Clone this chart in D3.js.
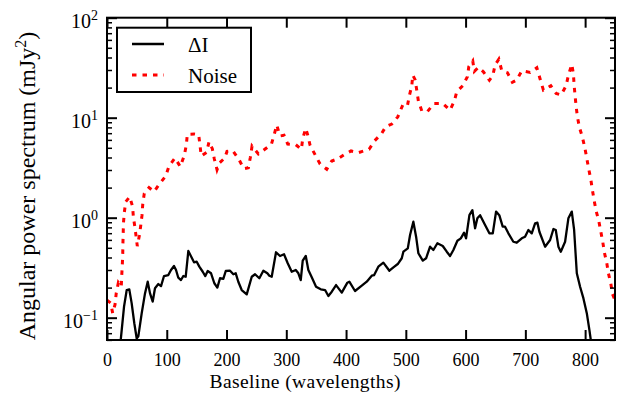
<!DOCTYPE html>
<html>
<head>
<meta charset="utf-8">
<script src="https://cdn.jsdelivr.net/npm/d3@7"></script>
<style>
  body { margin: 0; background: #fff; }
  text { font-family: "Liberation Serif", serif; fill: #000; }
</style>
</head>
<body>
<div id="chart"></div>
<script>
// baseline (wavelengths) and power (mJy^2)
const noiseBaseline = [0, 6.2, 9.5, 13.4, 15.4, 19, 23.9, 24.6, 25.6, 26.3, 26.6, 27.1, 27.5, 29, 31.3, 38,
  42.8, 44.2, 47, 50.7, 54, 56.4, 58.6, 59.8, 62.4, 70.3, 78.7, 87.6, 98.2, 103.8, 113.8, 122.6, 129.4,
  132.7, 134.4, 146, 153.4, 155.6, 157.7, 166.8, 170.7, 176.2, 179.6, 184.1, 188.6, 197, 200.8, 210.4,
  220.4, 228.8, 236.5, 239.9, 242.7, 253.3, 264, 275, 280, 284, 289.5, 296.2, 302.4, 315.8, 325.2, 327.5,
  332.5, 335.9, 339.8, 348.1, 356.5, 367.7, 376.1, 385.4, 396.1, 408.4, 420.6, 427.3, 438.5, 448, 459.7,
  466.4, 476.5, 486.5, 494.9, 502.6, 505.9, 510, 511.6, 515.5, 518.3, 521, 526.7, 536, 547.3, 561.8, 574,
  581.3, 585.3, 595.3, 603, 605.4, 612, 614.7, 621.4, 629.8, 639.8, 645.5, 649.4, 655.6, 660.6, 670,
  678.3, 685.7, 694, 708, 719.2, 724.7, 730.2, 742.6, 751.5, 759.8, 768.2, 772.1, 777.7, 780.4, 781.6,
  783.2, 784.9, 787.1, 790.5, 795.5, 799.5, 802.8, 805.8, 809.5, 812.2, 815, 818.4, 822.9, 826.3, 829.6,
  832.3, 836.3, 839, 843, 845.7, 850];
const noisePower = [0.15, 0.14, 0.111, 0.135, 0.175, 0.224, 0.204, 0.261, 0.334, 0.424, 0.542, 0.698, 0.879, 1.13, 1.445, 1.62,
  1.29, 1.01, 0.78, 0.52, 0.656, 0.83, 1.06, 1.36, 1.75, 2.0, 1.82, 2.17, 2.61, 3.29, 3.95, 3.24, 4.21,
  5.33, 6.82, 6.87, 6.76, 5.3, 4.14, 4.51, 5.75, 4.9, 3.86, 3.02, 3.55, 3.95, 4.61, 4.68,
  3.86, 3.09, 3.16, 4.02, 5.21, 4.34, 4.83, 5.4, 6.87, 8.45, 6.56, 6.67, 5.46, 5.37, 4.83, 6.17,
  7.83, 6.71, 5.3, 4.27, 3.44, 3.05, 3.69, 3.86, 4.24, 4.65, 4.47, 4.61, 4.83, 5.89, 6.98,
  8.13, 8.65, 10.2, 13.4, 13.1, 16.6, 20.9, 26.7, 24, 18.8, 14.7, 11.7, 11.5, 13.9, 13.9, 11.9,
  14.8, 18.2, 20.9, 25.7, 32.4, 36.9, 29.1, 31.9, 28.8, 23.7, 26.3, 33.7, 38.4, 29.5, 28.2,
  22.6, 23.8, 29.5, 28.4, 31.6, 24.4, 18.9, 20.9, 17.5, 16.9, 20.9, 26.7, 34.2, 27.4, 21.2,
  16.6, 13.1, 10.2, 8.0, 6.37, 5.01, 3.93, 3.12, 2.42, 1.89, 1.5, 1.17, 0.927, 0.724, 0.568,
  0.447, 0.35, 0.278, 0.219, 0.173, 0.15];

const deltaBaseline = [18, 28.5, 33, 37.3, 41.3, 45.7, 49.7, 52.4, 58.1, 63.6, 68.1, 72, 76.5, 80.3, 85.9, 90.4,
  95.4, 102.6, 107.1, 112.1, 115.5, 119.3, 123.8, 127.7, 131.7, 136.1, 140.1, 145.6, 150.1, 154.5, 160.2,
  164.5, 168.5, 174.1, 179.6, 184.6, 189.1, 194.6, 198.7, 205.9, 211.4, 215.4, 219.7, 225.4, 233.8, 242.2,
  247.7, 254.9, 261.6, 268.3, 271.6, 275.6, 282.8, 289.5, 296.2, 302.4, 309.1, 315.8, 320.2, 324.2, 327.5,
  332.6, 336.9, 342.6, 349.8, 357.7, 364.9, 370.4, 376.1, 383.3, 392.8, 402.2, 405.5, 415, 426.3, 434.6,
  443, 446.8, 454, 462.4, 472.5, 479.2, 486.5, 493.2, 495.9, 503.3, 507.1, 512.6, 517.2, 521, 528.4,
  533.9, 540.6, 546.1, 552.8, 561.8, 568.5, 574, 579.6, 586.3, 592, 597.5, 600.8, 606.4, 611.4, 615.9,
  619.7, 624.3, 632.6, 639.8, 645.5, 651, 656.4, 662.1, 666, 671.6, 679.9, 685.6, 694, 699.5, 705.1,
  710.7, 716.3, 720.2, 723.5, 733, 741.4, 747, 750.9, 755.3, 759.3, 766.5, 772, 777.7, 781.6, 786.1,
  791.6, 797.2, 802.8, 807.2, 809.5, 815];
const deltaPower = [0.03, 0.129, 0.189, 0.192, 0.139, 0.088, 0.062, 0.065, 0.111, 0.175, 0.229, 0.175, 0.145, 0.197, 0.217, 0.207,
  0.261, 0.267, 0.3, 0.329, 0.3, 0.251, 0.238, 0.261, 0.257, 0.465, 0.417, 0.358, 0.363, 0.324, 0.288,
  0.261, 0.293, 0.278, 0.221, 0.2, 0.248, 0.245, 0.293, 0.295, 0.272, 0.278, 0.229, 0.189, 0.171, 0.257,
  0.272, 0.248, 0.295, 0.278, 0.263, 0.257, 0.451, 0.414, 0.431, 0.35, 0.288, 0.3, 0.278, 0.238, 0.372,
  0.414, 0.3, 0.254, 0.204, 0.192, 0.189, 0.165, 0.182, 0.212, 0.178, 0.224, 0.229, 0.185, 0.209, 0.229,
  0.263, 0.266, 0.324, 0.355, 0.295, 0.319, 0.344, 0.393, 0.457, 0.494, 0.671, 0.912, 0.646, 0.441, 0.372,
  0.393, 0.513, 0.475, 0.555, 0.521, 0.457, 0.414, 0.475, 0.589, 0.622, 0.708, 0.622, 1.06, 1.19, 0.783,
  0.986, 1.06, 0.845, 0.698, 0.698, 1.15, 1.06, 0.813, 0.813, 0.698, 0.575, 0.562, 0.622, 0.646, 0.754,
  0.698, 0.879, 0.891, 0.724, 0.513, 0.598, 0.771, 0.754, 0.513, 0.457, 0.575, 0.986, 1.15, 0.754, 0.278,
  0.204, 0.156, 0.111, 0.075, 0.06, 0.04];

const xTicks = [0, 100, 200, 300, 400, 500, 600, 700, 800];
const yMajor = [0.1, 1, 10, 100];
const yExponents = ["2", "1", "0", "\u22121"];

const width = 619, height = 398;
const margin = {top: 17.7, right: 4, bottom: 58, left: 107};

const svg = d3.select("#chart").append("svg")
    .attr("width", width)
    .attr("height", height);

const x = d3.scaleLinear()
    .domain([0, 850])
    .range([margin.left, width - margin.right]);
const y = d3.scaleLog()
    .domain([0.05984, 100])
    .range([height - margin.bottom, margin.top]);

svg.append("clipPath").attr("id", "plot-clip")
  .append("rect")
    .attr("x", margin.left).attr("y", margin.top)
    .attr("width", x.range()[1] - margin.left)
    .attr("height", y.range()[0] - margin.top);

const line = d3.line()
    .x(d => x(d[0]))
    .y(d => y(d[1]));

const noise = noiseBaseline.map((b, i) => [b, noisePower[i]]);
const delta = deltaBaseline.map((b, i) => [b, deltaPower[i]]);

const plot = svg.append("g").attr("clip-path", "url(#plot-clip)");
plot.append("path")
    .datum(delta)
    .attr("d", line)
    .attr("fill", "none")
    .attr("stroke", "#000")
    .attr("stroke-width", 2.3)
    .attr("stroke-linejoin", "round");
plot.append("path")
    .datum(noise)
    .attr("d", line)
    .attr("fill", "none")
    .attr("stroke", "#ff0000")
    .attr("stroke-width", 3)
    .attr("stroke-dasharray", "4.5,6");

// ticks, all pointing inwards
const minor = y.ticks().filter(v => !yMajor.some(m => Math.abs(m - v) < 1e-9));
const yBottom = y.range()[0], yTop = margin.top;
const xLeft = margin.left, xRight = x.range()[1];

function styleAxis(g, w) {
  g.select(".domain").remove();
  g.selectAll(".tick line").attr("stroke", "#000").attr("stroke-width", w);
}

svg.append("g")
    .attr("transform", `translate(0,${yBottom})`)
    .call(d3.axisBottom(x).tickValues(xTicks).tickSizeInner(-10).tickSizeOuter(0).tickPadding(13))
    .call(g => styleAxis(g, 2))
    .call(g => g.selectAll(".tick text")
        .attr("font-size", 18)
        .attr("fill", "#000"));
svg.append("g")
    .attr("transform", `translate(0,${yTop})`)
    .call(d3.axisTop(x).tickValues(xTicks).tickSizeInner(-10).tickSizeOuter(0).tickFormat(""))
    .call(g => styleAxis(g, 2));

[[xLeft, d3.axisLeft], [xRight, d3.axisRight]].forEach(([pos, axis]) => {
  svg.append("g")
      .attr("transform", `translate(${pos},0)`)
      .call(axis(y).tickValues(yMajor).tickSizeInner(-10).tickSizeOuter(0).tickFormat(""))
      .call(g => styleAxis(g, 2));
  svg.append("g")
      .attr("transform", `translate(${pos},0)`)
      .call(axis(y).tickValues(minor).tickSizeInner(-5).tickSizeOuter(0).tickFormat(""))
      .call(g => styleAxis(g, 1.5));
});

// y tick labels: 10^n
const yLabels = svg.append("g");
yMajor.slice().reverse().forEach((v, i) => {
  const t = yLabels.append("text")
      .attr("x", xLeft - 9)
      .attr("y", y(v) + 10)
      .attr("text-anchor", "end")
      .attr("font-size", 20);
  t.append("tspan").text("10");
  t.append("tspan")
      .attr("font-size", 14)
      .attr("dy", -8)
      .text(yExponents[i]);
});

// frame
svg.append("rect")
    .attr("x", xLeft).attr("y", yTop)
    .attr("width", xRight - xLeft).attr("height", yBottom - yTop)
    .attr("fill", "none")
    .attr("stroke", "#000")
    .attr("stroke-width", 2);

// axis titles
svg.append("text")
    .attr("x", 305)
    .attr("y", 388)
    .attr("text-anchor", "middle")
    .attr("font-size", 19.5)
    .attr("textLength", 191)
    .text("Baseline (wavelengths)");

const yTitle = svg.append("text")
    .attr("transform", `translate(35,186) rotate(-90)`)
    .attr("text-anchor", "middle")
    .attr("font-size", 24);
yTitle.append("tspan").text("Angular power spectrum (mJy");
yTitle.append("tspan").attr("font-size", 16).attr("dy", -9).text("2");
yTitle.append("tspan").attr("dy", 9).text(")");

// legend
const legend = svg.append("g");
legend.append("rect")
    .attr("x", 117).attr("y", 27.7)
    .attr("width", 134).attr("height", 64.3)
    .attr("fill", "#fff")
    .attr("stroke", "#000")
    .attr("stroke-width", 2);
legend.append("line")
    .attr("x1", 132).attr("x2", 164)
    .attr("y1", 44).attr("y2", 44)
    .attr("stroke", "#000").attr("stroke-width", 2.5);
legend.append("text").attr("x", 188).attr("y", 51.5).attr("font-size", 21).text("\u0394I");
legend.append("line")
    .attr("x1", 132).attr("x2", 164)
    .attr("y1", 75).attr("y2", 75)
    .attr("stroke", "#ff0000").attr("stroke-width", 3)
    .attr("stroke-dasharray", "4.5,6");
legend.append("text").attr("x", 188).attr("y", 83).attr("font-size", 21).text("Noise");
</script>
</body>
</html>
